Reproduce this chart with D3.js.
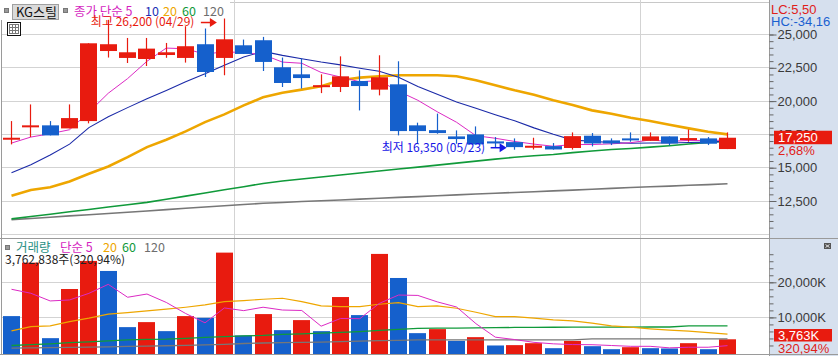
<!DOCTYPE html>
<html><head><meta charset="utf-8">
<script src="https://cdn.jsdelivr.net/npm/d3@7/dist/d3.min.js"></script>
<style>
html,body{margin:0;padding:0;background:#fff;}
svg{display:block;}
</style></head>
<body>
<svg id="chart" width="838" height="356"></svg>
<script>
// ---------------- DATA ----------------
const openP  = [17150,18030,18180,17950,18500,23760,23240,23160,23460,23240,24270,23240,24190,24570,22540,22010,21060,21060,21510,20860,21260,18180,17820,17350,17500,16975,16920,16545,16620,16480,17400,17050,17200,17020,17350,17100,17200,16400];
const highP  = [18500,19750,18500,19750,24340,26100,24740,24740,24365,25620,25450,26200,24620,24820,23270,23190,22010,23360,22310,23440,22990,18380,19060,17800,18100,17300,17200,17250,16850,17650,17600,17200,17650,17650,17350,17875,17300,17650];
const lowP   = [16750,17300,17425,17950,18330,23270,22860,22635,23250,22890,21810,21940,23540,22260,21060,20940,20600,20680,19300,20430,17425,16800,17550,16800,16750,16520,16350,16370,16350,16360,16600,16700,16950,17020,16670,16950,16700,16400];
const closeP = [17200,18180,17425,18725,24340,24270,23665,23940,23665,24120,22185,24640,23540,22940,21360,21730,21180,21860,21130,21790,17750,17750,17600,17150,16750,16820,16545,16600,16370,17370,16820,16820,17050,17350,16820,17200,16800,17250];

const ma5   = [16850,17300,17550,17850,19170,20590,21690,22990,23980,23930,23520,23710,23630,23490,22930,22840,22150,21810,21450,21540,20740,20060,19200,18410,17400,17210,16970,16770,16610,16740,16740,16790,16880,17080,16970,17050,17040,17080];
const ma10  = [14620,15220,15960,16770,18010,18820,19510,20180,20800,21450,22050,22700,23310,23730,23430,23180,22930,22720,22470,22240,21790,21100,20510,19930,19470,18980,18520,17990,17510,17070,16980,16880,16830,16850,16860,16890,16920,16980];
const ma20  = [12900,13330,13530,13960,14545,15094,15793,16545,17101,17726,18425,19004,19680,20282,20620,20861,21109,21560,21763,21861,21936,21936,21936,21861,21560,21184,20808,20470,20056,19703,19305,19056,18756,18500,18229,17951,17703,17500];
const ma60  = [11161,11334,11508,11688,11861,12049,12214,12395,12628,12868,13101,13342,13575,13816,14004,14154,14297,14447,14598,14748,14898,15041,15192,15342,15492,15643,15786,15898,15996,16132,16259,16372,16447,16545,16650,16785,16898,17011];
const ma120 = [11100,11190,11280,11380,11470,11560,11650,11750,11850,11950,12050,12140,12240,12330,12390,12460,12520,12580,12640,12710,12770,12830,12890,12960,13020,13080,13140,13200,13260,13320,13380,13450,13510,13570,13620,13680,13730,13790];

// volume in thousands of shares
const volume = [10371,25600,4086,18086,26086,23229,7229,8657,6086,10371,9886,28457,4857,10943,6371,9229,6086,15800,10657,28086,21229,5514,6657,3314,4371,2000,2100,2657,1229,3314,1800,943,1514,1229,1150,2657,943,3763];
const volMa5   = [18010,16880,14690,14970,16850,19420,15740,16660,14260,11110,8450,12690,11930,12900,12100,11970,7500,9690,9630,13970,16370,16260,14430,12960,8220,4370,3690,2890,2470,2260,2220,1990,1760,1760,1330,1500,1500,1950];
const volMa20  = [6165,7386,7585,8807,9773,10909,11364,11847,12330,12898,13551,14489,14773,15170,15455,14489,13267,13068,13068,13750,14205,13068,13267,12614,11477,10227,10227,9773,9290,9006,8352,7585,7216,6733,6364,6080,5682,5227];
const volMa60  = [1990,2245,2470,2810,3040,3320,3610,3750,3810,4030,4320,4545,4740,4890,5170,5310,5510,5740,5970,6310,6590,6875,6930,6960,7020,7070,7130,7160,7190,7215,7215,7245,7245,7270,7270,7585,7585,7585];
const volMa120 = [1250,1310,1370,1440,1520,1610,1720,1820,1920,2050,2200,2330,2560,2700,2790,2880,2960,3120,3260,3360,3480,3600,3610,3610,3610,3610,3610,3610,3610,3610,3890,3890,3890,3890,3890,3890,3890,3890];

const priceTicks = [12500,15000,17500,20000,22500,25000];
const volTicks = [10000,20000];
const separators = [11.5, 32.5];

const stockName = "KG스틸";
const priceLegend = [["종가 단순 5","#d51fbf"],["10","#1b2fb5"],["20","#eea600"],["60","#10993a"],["120","#6e6e6e"]];
const volLegend = [["거래량","#2a9185"],["단순 5","#d51fbf"],["20","#eea600"],["60","#10993a"],["120","#6e6e6e"]];
const highNote = "최고 26,200 (04/29)";
const lowNote = "최저 16,350 (05/23)";
const lcText = "LC:5,50", hcText = "HC:-34,16";
const lastPriceText = "17,250", lastChangeText = "2,68%";
const lastVolText = "3,763K", lastVolPctText = "320,94%";
const volInfoText = "3,762,838주(320,94%)";

// ---------------- SETUP ----------------
const RED = "#e81b0f", BLUE = "#1560cc", GRID = "#d3d3d3";
const KO = '"Noto Sans CJK KR", "Noto Sans", sans-serif';
const NUM = '"Liberation Sans Narrow", "Liberation Sans", Arial, sans-serif';
const svg = d3.select("#chart");
const plotL = 1.5, plotR = 769;
const upBot = 238, loTop = 239, loBot = 354.5;

const x  = d3.scaleLinear().domain([0, 37]).range([11.5, 727.5]);
const yp = d3.scaleLinear().domain([12500, 25000]).range([201, 34.5]);
const yv = d3.scaleLinear().domain([0, 20000]).range([352.5, 282.3]);
const bw = 17;
const px = v => Math.floor(v) + 0.5;

svg.append("rect").attr("x",0).attr("y",0).attr("width",838).attr("height",356).attr("fill","#fff");
svg.append("rect").attr("x",plotR).attr("y",0).attr("width",838-plotR).attr("height",356).attr("fill","#d6e0ee");

// gridlines
const gUp = svg.append("g");
gUp.selectAll("line").data(priceTicks.concat([10000])).join("line")
  .attr("x1",plotL).attr("x2",plotR).attr("y1",d=>px(yp(d))).attr("y2",d=>px(yp(d)))
  .attr("stroke",GRID).attr("stroke-width",1);
gUp.append("line").attr("x1",230).attr("x2",plotR).attr("y1",2.5).attr("y2",2.5).attr("stroke","#c8c8c8");
const gLo = svg.append("g");
gLo.selectAll("line").data(volTicks).join("line")
  .attr("x1",plotL).attr("x2",plotR).attr("y1",d=>px(yv(d))).attr("y2",d=>px(yv(d)))
  .attr("stroke",GRID);
separators.forEach(s=>{
  svg.append("line").attr("x1",px(x(s))).attr("x2",px(x(s))).attr("y1",0).attr("y2",upBot).attr("stroke",GRID);
  svg.append("line").attr("x1",px(x(s))).attr("x2",px(x(s))).attr("y1",loTop).attr("y2",loBot).attr("stroke",GRID);
});

// frame lines
svg.append("line").attr("x1",1.5).attr("x2",1.5).attr("y1",20).attr("y2",loBot).attr("stroke","#9a9a9a");
svg.append("line").attr("x1",0).attr("x2",838).attr("y1",238.5).attr("y2",238.5).attr("stroke","#9a9a9a");
svg.append("line").attr("x1",0).attr("x2",838).attr("y1",354.5).attr("y2",354.5).attr("stroke","#9a9a9a");
svg.append("line").attr("x1",plotR+0.5).attr("x2",plotR+0.5).attr("y1",0).attr("y2",356).attr("stroke","#9a9a9a");

// price MAs
const priceLine = d3.line().x((d,i)=>x(i)).y(d=>yp(d));
[[ma120,"#777777",1.6],[ma60,"#109a3a",1.6],[ma20,"#eea600",2.6],[ma10,"#1b2aa8",1.1],[ma5,"#dc2ac4",1]].forEach(([arr,c,w])=>{
  svg.append("path").attr("d",priceLine(arr)).attr("fill","none").attr("stroke",c).attr("stroke-width",w);
});

// candles
const gC = svg.append("g");
openP.forEach((o,i)=>{
  const c = closeP[i], col = c >= o ? RED : BLUE;
  const cx = px(x(i));
  gC.append("line").attr("x1",cx).attr("x2",cx).attr("y1",yp(highP[i])).attr("y2",yp(lowP[i]))
    .attr("stroke",col).attr("stroke-width",1.2);
  const top = yp(Math.max(o,c)), bot = yp(Math.min(o,c));
  const h = Math.max(2, bot-top);
  gC.append("rect").attr("x",Math.round(x(i)-bw/2)).attr("y",(top+bot)/2 - h/2)
    .attr("width",bw).attr("height",h).attr("fill",col);
});

// volume
const gV = svg.append("g");
volume.forEach((v,i)=>{
  const col = (i>0 && v>=volume[i-1]) ? RED : BLUE;
  gV.append("rect").attr("x",Math.round(x(i)-bw/2)).attr("y",yv(v)).attr("width",bw)
    .attr("height",354-yv(v)).attr("fill",col);
});
const volLine = d3.line().x((d,i)=>x(i)).y(d=>yv(d));
[[volMa120,"#777777",1.3],[volMa60,"#109a3a",1.3],[volMa20,"#eea600",1.2],[volMa5,"#dc2ac4",1]].forEach(([arr,c,w])=>{
  svg.append("path").attr("d",volLine(arr)).attr("fill","none").attr("stroke",c).attr("stroke-width",w);
});

// axes
function styleAxis(g){
  g.select(".domain").remove();
  g.selectAll(".tick line").attr("stroke","#666");
  g.selectAll(".tick text").attr("fill","#3a3a3a").attr("font-family",NUM).attr("font-size","13px");
}
svg.append("g").attr("transform",`translate(${plotR+0.5},0)`)
  .call(d3.axisRight(yp).tickValues(d3.range(10500,25001,500)).tickSize(4).tickFormat(""))
  .call(styleAxis);
svg.append("g").attr("transform",`translate(${plotR+0.5},0)`)
  .call(d3.axisRight(yp).tickValues(priceTicks).tickSize(7).tickPadding(1).tickFormat(d3.format(",")))
  .call(styleAxis);
svg.append("g").attr("transform",`translate(${plotR+0.5},0)`)
  .call(d3.axisRight(yv).tickValues(d3.range(2000,28001,2000)).tickSize(4).tickFormat(""))
  .call(styleAxis);
svg.append("g").attr("transform",`translate(${plotR+0.5},0)`)
  .call(d3.axisRight(yv).tickValues(volTicks).tickSize(7).tickPadding(1).tickFormat(d=>d3.format(",")(d)+"K"))
  .call(styleAxis);

svg.append("text").attr("x",771).attr("y",14).attr("fill","#e0201a").attr("font-family",NUM).attr("font-size","13px").text(lcText);
svg.append("text").attr("x",771).attr("y",26).attr("fill","#1a5fd0").attr("font-family",NUM).attr("font-size","13px").text(hcText);

const lastC = closeP[closeP.length-1];
const ly = yp(lastC);
svg.append("rect").attr("x",774).attr("y",ly-7).attr("width",58).attr("height",13.5).attr("fill",RED);
svg.append("text").attr("x",778).attr("y",ly+4.5).attr("fill","#fff").attr("font-family",NUM).attr("font-size","13px").text(lastPriceText);
svg.append("text").attr("x",778).attr("y",ly+17).attr("fill","#e0201a").attr("font-family",NUM).attr("font-size","13px").text(lastChangeText);

const lastV = volume[volume.length-1];
const vy = Math.min(yv(lastV)-6.5, 329);
svg.append("rect").attr("x",774).attr("y",vy).attr("width",58).attr("height",12.5).attr("fill",RED);
svg.append("text").attr("x",778).attr("y",vy+11).attr("fill","#fff").attr("font-family",NUM).attr("font-size","13px").text(lastVolText);
svg.append("text").attr("x",778).attr("y",vy+23.5).attr("fill","#e0201a").attr("font-family",NUM).attr("font-size","13px").text(lastVolPctText);

svg.append("rect").attr("x",824).attr("y",243).attr("width",7).attr("height",6).attr("fill","#555");
svg.append("path").attr("d","M825.5,244.5 L829.5,247.5 M829.5,244.5 L825.5,247.5").attr("stroke","#fff").attr("stroke-width",0.8);

// legends
svg.append("rect").attr("x",4.5).attr("y",8.5).attr("width",4).attr("height",4).attr("fill","#999").attr("stroke","#777");
svg.append("rect").attr("x",12.5).attr("y",4.5).attr("width",46).attr("height",15).attr("fill","#dadada").attr("stroke","#a0a0a0");
svg.append("text").attr("x",16).attr("y",17).attr("fill","#111").attr("font-family",KO).attr("font-size","13px").text(stockName);
svg.append("rect").attr("x",63.5).attr("y",8.5).attr("width",4).attr("height",4).attr("fill","#999").attr("stroke","#777");
const priceLegX = [74,145,163,182,203];
priceLegend.forEach(([s,c],k)=>svg.append("text").attr("x",priceLegX[k]).attr("y",16).attr("fill",c)
  .attr("font-family",KO).attr("font-size","12.5px").text(s));
svg.append("rect").attr("x",7.5).attr("y",22.5).attr("width",13).attr("height",13).attr("fill","#fff").attr("stroke","#111");
svg.append("rect").attr("x",9.5).attr("y",24.5).attr("width",9).attr("height",9).attr("fill","#fff").attr("stroke","#777");
[27.5,30.5].forEach(yy=>svg.append("line").attr("x1",9.5).attr("x2",18.5).attr("y1",yy).attr("y2",yy).attr("stroke","#777"));
[12.5,15.5].forEach(xx=>svg.append("line").attr("x1",xx).attr("x2",xx).attr("y1",24.5).attr("y2",33.5).attr("stroke","#777"));

svg.append("rect").attr("x",5.5).attr("y",245.5).attr("width",4).attr("height",4).attr("fill","#999").attr("stroke","#777");
const volLegX = [16,60,103,122,144];
volLegend.forEach(([s,c],k)=>svg.append("text").attr("x",volLegX[k]).attr("y",252).attr("fill",c)
  .attr("font-family",KO).attr("font-size","12.5px").text(s));
svg.append("text").attr("x",5).attr("y",264).attr("fill","#222").attr("font-family",KO).attr("font-size","12px").text(volInfoText);

// high / low notes
const hiIdx = d3.maxIndex(highP), loIdx = d3.minIndex(lowP);
function arrow(tipX, yy, col){
  svg.append("line").attr("x1",tipX-16).attr("x2",tipX-6).attr("y1",yy).attr("y2",yy).attr("stroke",col).attr("stroke-width",1.5);
  svg.append("path").attr("d",`M${tipX},${yy} L${tipX-7},${yy-4.5} L${tipX-7},${yy+4.5} Z`).attr("fill",col);
}
const hiTip = x(hiIdx) - 7.5, hiY = yp(highP[hiIdx]) + 4;
svg.append("text").attr("x",hiTip-126).attr("y",hiY+3.5).attr("fill",RED).attr("font-family",KO).attr("font-size","12px").text(highNote);
arrow(hiTip, hiY, RED);
const loTip = x(loIdx) - 8, loY = yp(lowP[loIdx]) - 2;
svg.append("text").attr("x",loTip-125).attr("y",loY+4).attr("fill","#1616e6").attr("font-family",KO).attr("font-size","12px").text(lowNote);
arrow(loTip, loY, "#1616e6");
</script>
</body></html>
